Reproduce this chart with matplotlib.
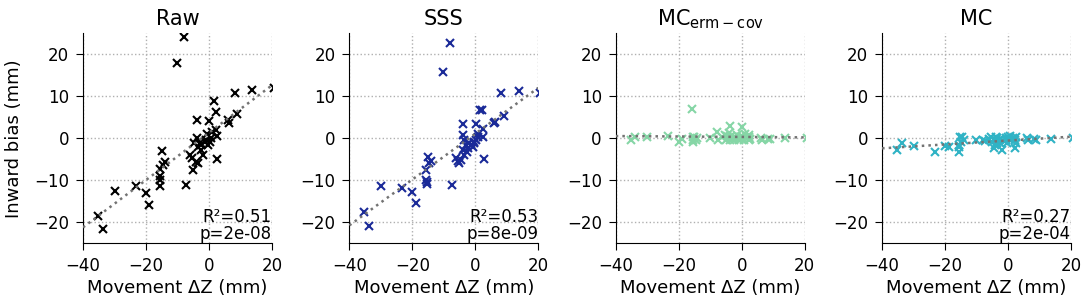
#!/usr/bin/env python
import numpy as np
import matplotlib
matplotlib.use('Agg')
import matplotlib.pyplot as plt

# movement along z for each subject (mm), same for all panels
movement_dz = [-35.2, -33.8, -30.0, -23.3, -20.0, -18.9, -15.7, -15.6, -15.5, -15.4,
               -15.0, -14.6, -14.1, -10.2, -7.9, -7.4, -6.1, -5.4, -5.1, -4.6,
               -4.0, -3.8, -3.8, -3.6, -3.5, -3.0, -2.5, -2.4, -1.9, -1.4,
               -0.8, -0.5, -0.3, 0.1, 0.2, 0.7, 1.0, 1.6, 2.2, 2.3,
               2.4, 2.6, 6.0, 6.3, 8.3, 9.0, 13.8, 20.6]

bias_raw = [-18.4, -21.6, -12.5, -11.4, -13.1, -15.9, -7.3, -8.9, -9.9, -11.3,
            -3.0, -6.4, -5.7, 17.9, 24.1, -11.2, -4.0, -4.8, -7.6, -1.2,
            -5.6, 4.3, 0.0, -2.0, -6.0, -1.0, -1.5, -2.8, -4.0, -0.8,
            -0.4, 1.0, -1.6, 4.2, -0.8, 0.0, 1.5, 8.9, 6.3, 2.0,
            0.5, -5.0, 4.3, 3.7, 10.8, 5.8, 11.5, 12.1]

bias_sss = [-17.6, -20.8, -11.4, -11.8, -12.9, -15.4, -7.5, -9.9, -10.4, -10.9,
            -4.4, -6.0, -5.4, 15.8, 22.7, -11.2, -4.7, -5.3, -5.9, -5.1,
            -2.8, 3.5, 0.9, -4.0, -0.5, -1.7, -3.2, -2.4, -1.2, -1.5,
            -2.0, -0.8, -1.0, 3.5, -0.3, 0.4, 1.0, 6.7, 6.7, 2.3,
            0.2, -5.0, 3.7, 4.0, 10.7, 5.3, 11.3, 10.9]

bias_mc_erm = [-0.3, 0.2, 0.4, 0.5, -0.8, -0.2, 7.0, -0.5, 0.3, -0.8,
               0.2, -0.3, 0.0, 0.0, 1.6, -0.3, 0.3, 0.8, -0.4, 0.5,
               1.2, 3.0, 0.2, -0.5, 0.6, -0.2, 0.4, -0.4, 0.1, 0.7,
               -0.3, 0.3, -0.1, 2.6, 0.5, -0.3, 1.0, 0.2, -0.4, 0.4,
               0.8, -0.2, 0.1, -0.3, -0.2, -0.2, 0.1, 0.0]

bias_mc = [-2.7, -1.1, -1.9, -3.2, -1.9, -2.1, -2.1, -3.2, -1.5, 0.4,
           -0.8, 0.2, -0.5, -0.4, -0.3, -0.6, -0.2, 0.3, -0.8, -2.4,
           -1.6, 0.3, -0.5, -1.2, 0.1, -0.4, -1.0, -0.2, -2.8, -0.6,
           0.0, -0.3, -1.0, 0.4, -0.2, 0.5, -0.5, 0.0, -2.2, -0.3,
           -1.0, 0.2, 0.1, -0.5, -0.2, -0.3, -0.1, 0.0]

titles = ['Raw', 'SSS', r'MC$_{\mathrm{erm-cov}}$', 'MC']
colors = ['black', '#1a2a98', '#86d6a6', '#30b3c5']
stats = ['R²=0.51\np=2e-08', 'R²=0.53\np=8e-09', None, 'R²=0.27\np=2e-04']
all_bias = [bias_raw, bias_sss, bias_mc_erm, bias_mc]

fig, axes = plt.subplots(1, 4, figsize=(10.84, 3.04), dpi=100)
fig.subplots_adjust(left=0.0766, right=0.988, bottom=0.2, top=0.89, wspace=0.41)

x = np.array(movement_dz)
xfit = np.array([-40, 20])
for i, ax in enumerate(axes):
    y = np.array(all_bias[i])
    ax.grid(True, ls=':', color='#b0b0b0', lw=1)
    ax.set_axisbelow(True)
    ax.plot(x, y, 'x', color=colors[i], ms=6, mew=1.5, zorder=2)
    # linear fit through the points
    slope, icpt = np.polyfit(x, y, 1)
    ax.plot(xfit, slope * xfit + icpt, ':', color='0.45', lw=1.8, zorder=3)
    ax.set_xlim(-40, 20)
    ax.set_ylim(-25, 25)
    ax.set_xticks([-40, -20, 0, 20])
    ax.set_yticks([-20, -10, 0, 10, 20])
    ax.tick_params(labelsize=12, length=5, pad=5)
    ax.spines['top'].set_visible(False)
    ax.spines['right'].set_visible(False)
    ax.set_title(titles[i], fontsize=15)
    ax.set_xlabel('Movement ΔZ (mm)', fontsize=13, labelpad=3)
    if stats[i] is not None:
        ax.text(1.0, 0.0, stats[i], transform=ax.transAxes, ha='right', va='bottom',
                fontsize=12, linespacing=0.95)

axes[0].set_ylabel('Inward bias (mm)', fontsize=13, labelpad=8)

plt.savefig('out.png')
